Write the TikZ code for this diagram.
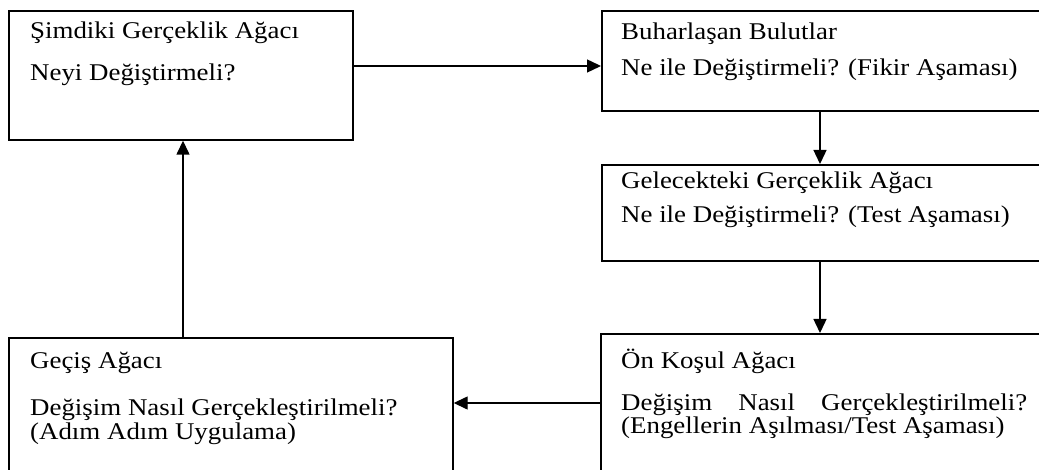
\documentclass[tikz,border=0pt]{standalone}
\usepackage{fontspec}
\setmainfont{Liberation Serif}[FakeStretch=1.12]
\usetikzlibrary{arrows.meta}

\tikzset{
  stagebox/.style={draw=black, line width=1.7pt, rectangle, inner sep=0pt, anchor=north west},
  caption/.style={anchor=base west, inner sep=0pt, font=\fontsize{24}{28}\selectfont},
  flow/.style={line width=1.4pt, -{Triangle[length=14pt,width=13pt]}}
}

\begin{document}
\begin{tikzpicture}[x=1pt, y=-1pt]
  \useasboundingbox (0,0) rectangle (1039,470);
  \clip (0,0) rectangle (1039,470);

  % stage boxes (right and bottom ones run past the page edge)
  \node[stagebox, minimum width=344pt, minimum height=129pt] (now) at (8,10) {};
  \node[stagebox, minimum width=450pt, minimum height=100pt] (buh) at (601,10) {};
  \node[stagebox, minimum width=450pt, minimum height=96pt]  (gel) at (601,164) {};
  \node[stagebox, minimum width=450pt, minimum height=160pt] (on)  at (600,333) {};
  \node[stagebox, minimum width=444pt, minimum height=160pt] (gec) at (8,337) {};

  % texts
  \node[caption] (t1a) at (30,39)  {Şimdiki Gerçeklik Ağacı};
  \node[caption] (t1b) at (30,81)  {Neyi Değiştirmeli?};
  \node[caption] (t2a) at (621,40) {Buharlaşan Bulutlar};
  \node[caption] (t2b) at (621,76) {Ne ile Değiştirmeli? (Fikir Aşaması)};
  \node[caption] (t3a) at (621,189) {Gelecekteki Gerçeklik Ağacı};
  \node[caption] (t3b) at (621,223) {Ne ile Değiştirmeli? (Test Aşaması)};
  \node[caption] (t4a) at (621,369) {Ön Koşul Ağacı};
  \node[caption] (t4b) at (621,410) {\makebox[406pt][s]{Değişim Nasıl Gerçekleştirilmeli?}};
  \node[caption] (t4c) at (621,433) {(Engellerin Aşılması/Test Aşaması)};
  \node[caption] (t5a) at (30,369) {Geçiş Ağacı};
  \node[caption] (t5b) at (30,415) {Değişim Nasıl Gerçekleştirilmeli?};
  \node[caption] (t5c) at (30,439) {(Adım Adım Uygulama)};

  % connector guide lines
  \coordinate (row1) at (0,66);
  \coordinate (row2) at (0,403);
  \coordinate (colR) at (820,0);
  \coordinate (colL) at (183,0);

  % connectors
  \draw[flow] (now.east |- row1) -- (buh.west |- row1);
  \draw[flow] (buh.south -| colR) -- (gel.north -| colR);
  \draw[flow] (gel.south -| colR) -- (on.north -| colR);
  \draw[flow] (on.west |- row2) -- (gec.east |- row2);
  \draw[flow] (gec.north -| colL) -- (now.south -| colL);
\end{tikzpicture}
\end{document}
